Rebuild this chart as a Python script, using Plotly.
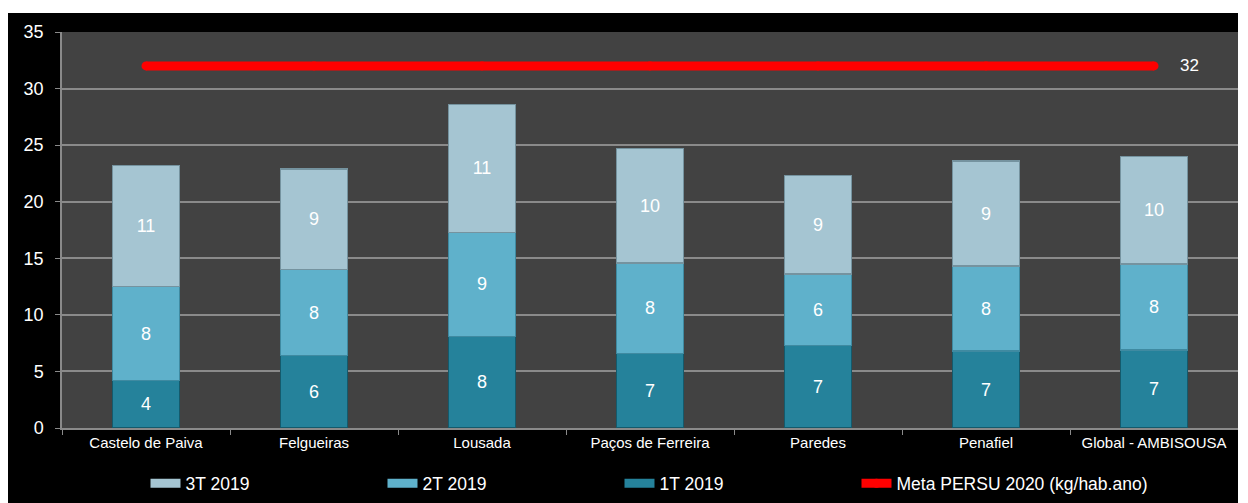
import plotly.graph_objects as go

categories = ["Castelo de Paiva", "Felgueiras", "Lousada", "Paços de Ferreira",
              "Paredes", "Penafiel", "Global - AMBISOUSA"]
t1_2019 = [4.2, 6.4, 8.1, 6.6, 7.3, 6.8, 6.9]
t2_2019 = [8.3, 7.6, 9.2, 8.0, 6.3, 7.5, 7.6]
t3_2019 = [10.7, 8.9, 11.3, 10.1, 8.7, 9.3, 9.5]
meta_persu = [32, 32, 32, 32, 32, 32, 32]
meta_label = "32"

FONT = "Liberation Sans, Arial, sans-serif"

fig = go.Figure()

series = [
    ("1T 2019", t1_2019, "#25829b", "#145a6c", 3),
    ("2T 2019", t2_2019, "#5fb1cb", "#3f8aa1", 2),
    ("3T 2019", t3_2019, "#a5c5d2", "#75939f", 1),
]
for name, vals, col, edge, rank in series:
    fig.add_trace(go.Bar(
        x=categories, y=vals, name=name, legendgroup=name, showlegend=False,
        marker=dict(color=col, line=dict(color=edge, width=1.5)),
        texttemplate="%{y:.0f}", textposition="inside", insidetextanchor="middle",
        textfont=dict(color="white", size=18, family=FONT),
        hoverinfo="skip",
    ))
    # legend entry drawn as a wide bar-like swatch
    fig.add_trace(go.Scatter(
        x=[None], y=[None], name=name, legendgroup=name, legendrank=rank,
        mode="lines", line=dict(color=col, width=9), hoverinfo="skip",
    ))

fig.add_trace(go.Scatter(
    x=categories, y=meta_persu, name="Meta PERSU 2020 (kg/hab.ano)", legendrank=4,
    legendwidth=300,
    mode="lines+markers", line=dict(color="#ff0000", width=9),
    marker=dict(color="#ff0000", size=9), hoverinfo="skip",
))
fig.add_annotation(
    x=categories[-1], y=meta_persu[-1], text=meta_label, showarrow=False,
    xanchor="left", yanchor="middle", xshift=24,
    font=dict(color="white", size=17, family=FONT),
)

fig.update_layout(
    width=1230, height=490,
    barmode="stack", bargap=0.6,
    paper_bgcolor="black", plot_bgcolor="#424242",
    margin=dict(l=54, r=0, t=19, b=75),
    font=dict(family=FONT, color="white", size=15),
    showlegend=True,
    legend=dict(orientation="h", traceorder="normal",
                x=0.071, xanchor="left", y=-0.14, yanchor="middle",
                entrywidth=192, entrywidthmode="pixels",
                font=dict(size=17.5, color="white", family=FONT),
                bgcolor="rgba(0,0,0,0)"),
    xaxis=dict(showgrid=False, tickson="boundaries", ticks="outside", ticklen=5,
               tickcolor="#8a8a8a", showline=True, linecolor="#8a8a8a", linewidth=1.5,
               tickfont=dict(size=15, color="white"), fixedrange=True),
    yaxis=dict(range=[0, 35], dtick=5, showgrid=True, gridcolor="#8a8a8a", gridwidth=1.5,
               ticks="outside", ticklen=5, tickcolor="#8a8a8a", showline=True,
               linecolor="#8a8a8a", linewidth=1.5, zeroline=False,
               ticklabelstandoff=8,
               tickfont=dict(size=18, color="white"), fixedrange=True),
)

fig.write_html("out.html", post_script="document.body.style.margin='13px 0 0 8px';")
